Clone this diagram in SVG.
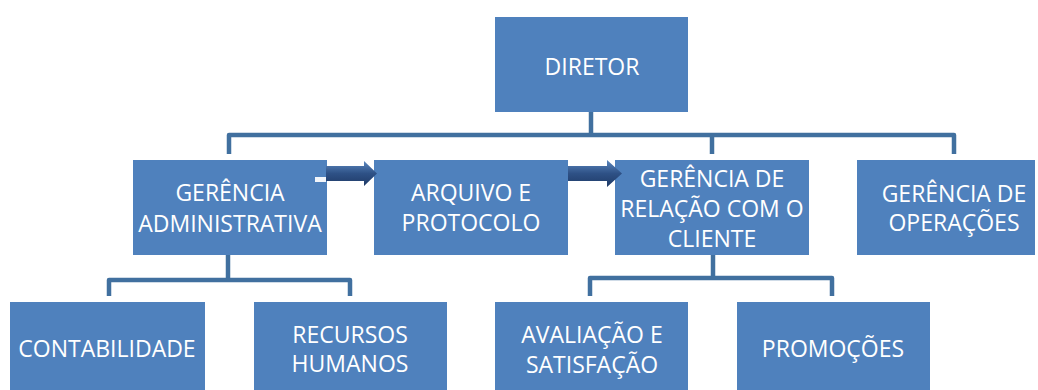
<svg xmlns="http://www.w3.org/2000/svg" width="1038" height="390" viewBox="0 0 1038 390">
<style>
.box{fill:#4F81BD;}
.t{font-family:"Open Sans","Liberation Sans",sans-serif;font-size:23px;fill:#FFFFFF;text-anchor:middle;}
.c{fill:none;stroke:#41709F;stroke-width:4.5;stroke-linejoin:round;}
</style>
<defs>
<linearGradient id="ag" x1="0" y1="0" x2="0" y2="1">
<stop offset="0" stop-color="#5B87BE"/>
<stop offset="0.5" stop-color="#2E5186"/>
<stop offset="1" stop-color="#1F3A66"/>
</linearGradient>
</defs>
<rect width="1038" height="390" fill="#FFFFFF"/>
<g id="diretor">
<rect class="box" x="495" y="17" width="193" height="95"/>
<text class="t" x="592" y="75">DIRETOR</text>
</g>
<g id="gerencia-administrativa">
<rect class="box" x="133" y="160" width="194" height="95"/>
<text class="t" x="230" y="201">GERÊNCIA</text>
<text class="t" x="230" y="232">ADMINISTRATIVA</text>
</g>
<g id="arquivo-protocolo">
<rect class="box" x="374" y="160" width="194" height="95"/>
<text class="t" x="471" y="201">ARQUIVO E</text>
<text class="t" x="471" y="231">PROTOCOLO</text>
</g>
<g id="gerencia-relacao-cliente">
<rect class="box" x="615" y="160" width="194" height="95"/>
<text class="t" x="712" y="187">GERÊNCIA DE</text>
<text class="t" x="712" y="217">RELAÇÃO COM O</text>
<text class="t" x="712" y="247">CLIENTE</text>
</g>
<g id="gerencia-operacoes">
<rect class="box" x="857" y="160" width="178" height="95"/>
<text class="t" x="954" y="202">GERÊNCIA DE</text>
<text class="t" x="954" y="231">OPERAÇÕES</text>
</g>
<g id="contabilidade">
<rect class="box" x="10" y="302" width="195" height="92"/>
<text class="t" x="107" y="357">CONTABILIDADE</text>
</g>
<g id="recursos-humanos">
<rect class="box" x="254" y="302" width="193" height="92"/>
<text class="t" x="350" y="343">RECURSOS</text>
<text class="t" x="350" y="372">HUMANOS</text>
</g>
<g id="avaliacao-satisfacao">
<rect class="box" x="495" y="302" width="193" height="92"/>
<text class="t" x="592" y="343">AVALIAÇÃO E</text>
<text class="t" x="592" y="373">SATISFAÇÃO</text>
</g>
<g id="promocoes">
<rect class="box" x="737" y="302" width="193" height="92"/>
<text class="t" x="833" y="357">PROMOÇÕES</text>
</g>
<g id="connectors">
<path class="c" d="M591 112 V135"/>
<path class="c" d="M229 154 V135 H954 V154"/>
<path class="c" d="M712 135 V154"/>
<path class="c" d="M228 255 V280"/>
<path class="c" d="M109 296 V280 H350 V296"/>
<path class="c" d="M713 255 V278"/>
<path class="c" d="M590 296 V278 H832 V296"/>
<path d="M326 166 H364 V161 L377 173.5 L364 186 V181 H326 Z" fill="url(#ag)"/>
<rect x="315" y="177" width="11" height="5" fill="#F2F5FA"/>
<path d="M568 166 H607 V160 L622 173.5 L607 187 V181 H568 Z" fill="url(#ag)"/>
</g>
</svg>
